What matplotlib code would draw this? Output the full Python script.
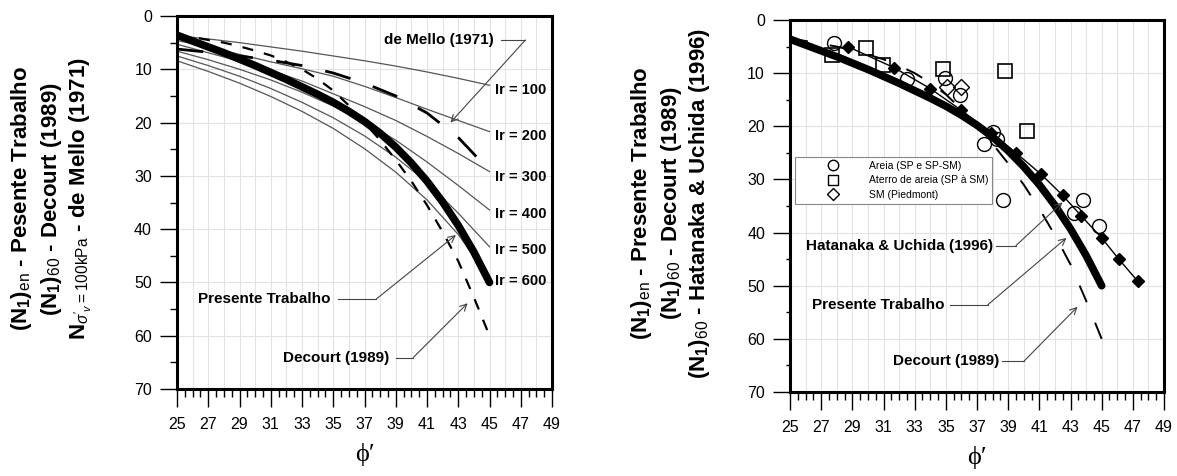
import numpy as np
import matplotlib.pyplot as plt
from matplotlib.lines import Line2D
from matplotlib.ticker import FixedLocator

plt.rcParams['font.family'] = ['Liberation Sans', 'DejaVu Sans']
plt.rcParams['mathtext.fontset'] = 'custom'
plt.rcParams['mathtext.rm'] = 'Liberation Sans'
plt.rcParams['mathtext.bf'] = 'Liberation Sans:bold'
plt.rcParams['mathtext.it'] = 'Liberation Sans:italic'
plt.rcParams['lines.scale_dashes'] = False

# friction angle (deg) for the two main curves
phi = [25, 26, 27, 28, 29, 30, 31, 32, 33, 34, 35, 36, 37, 38, 39, 40, 41, 42, 43, 44, 45]
presente = [3.6, 4.7, 5.8, 6.9, 8.1, 9.3, 10.6, 11.9, 13.3, 14.7, 16.2, 17.9, 19.8,
            22.0, 24.6, 27.6, 31.0, 34.9, 39.3, 44.3, 50.0]
decourt = [3.5, 3.95, 4.5, 5.0, 5.7, 6.5, 7.4, 8.6, 10.0, 11.8, 14.0, 16.8, 20.0,
           23.3, 27.0, 31.0, 35.5, 40.5, 46.0, 52.8, 60.0]

# de Mello (1971) curves
phi_mello = [25, 27, 29, 31, 33, 35, 37, 39, 41, 43, 45]
ir100 = [3.7, 4.3, 5.0, 5.8, 6.6, 7.5, 8.4, 9.4, 10.5, 11.7, 13.0]
ir200 = [4.6, 5.8, 7.2, 8.6, 9.9, 11.3, 13.2, 15.3, 17.5, 19.6, 21.7]
ir300 = [5.3, 6.9, 8.5, 10.2, 12.2, 14.6, 17.0, 19.6, 22.6, 25.8, 29.2]
ir400 = [6.6, 8.2, 10.0, 12.0, 14.3, 16.9, 19.8, 23.3, 27.4, 31.8, 36.4]
ir500 = [7.5, 9.3, 11.3, 13.6, 16.2, 19.1, 22.5, 26.5, 31.2, 37.0, 43.3]
ir600 = [8.4, 10.4, 12.6, 15.1, 17.9, 21.1, 24.9, 29.3, 34.5, 41.0, 49.2]
mello_dash = [6.2, 6.8, 7.5, 8.3, 9.3, 10.7, 12.6, 15.0, 18.2, 22.8, 29.0]
ir_labels = ['Ir = 100', 'Ir = 200', 'Ir = 300', 'Ir = 400', 'Ir = 500', 'Ir = 600']
ir_label_y = [13.9, 22.6, 30.3, 37.2, 43.9, 49.7]

# Hatanaka & Uchida (1996)
phi_hat = [28.7, 31.7, 34.0, 36.0, 37.9, 39.5, 41.1, 42.5, 43.7, 45.0, 46.1, 47.3]
n_hat = [5.0, 9.0, 12.9, 17.0, 21.2, 25.0, 29.0, 33.0, 36.9, 41.0, 45.0, 49.1]

# data points
areia_phi = [27.8, 32.5, 34.95, 35.9, 38.0, 38.3, 37.45, 38.7, 43.8, 43.2, 44.85]
areia_n = [4.3, 11.1, 11.0, 14.2, 21.1, 22.3, 23.4, 33.8, 33.9, 36.3, 38.8]
aterro_phi = [27.7, 29.85, 30.95, 34.85, 38.8, 40.2]
aterro_n = [6.6, 5.3, 8.4, 9.3, 9.6, 20.9]
sm_phi = [35.05, 35.95]
sm_n = [12.6, 12.6]

x_major = np.arange(25, 50, 2)
x_minor = np.arange(25, 49.01, 0.5)
y_major = np.arange(0, 71, 10)
y_minor = np.arange(5, 70, 10)

fig = plt.figure(figsize=(11.77, 4.76), dpi=100)
ax1 = fig.add_axes([177 / 1177, 1 - 389 / 476, 375 / 1177, 373 / 476])
ax2 = fig.add_axes([790 / 1177, 1 - 392 / 476, 374 / 1177, 372 / 476])


def style_axes(ax, minor_len):
    ax.set_xlim(25, 49)
    ax.set_ylim(70, 0)
    ax.vlines(np.arange(26, 49), 0, 70, color='#e3e3e3', lw=0.8, zorder=0)
    ax.hlines(np.arange(10, 70, 10), 25, 49, color='#e3e3e3', lw=0.8, zorder=0)
    ax.xaxis.set_major_locator(FixedLocator(x_major))
    ax.xaxis.set_minor_locator(FixedLocator(x_minor))
    ax.yaxis.set_major_locator(FixedLocator(y_major))
    ax.yaxis.set_minor_locator(FixedLocator(y_minor))
    ax.tick_params(axis='x', which='major', direction='out', length=13, width=1,
                   pad=7, labelsize=11.5)
    ax.tick_params(axis='x', which='minor', direction='out', length=6, width=1)
    ax.tick_params(axis='y', which='major', direction='out', length=12, width=1,
                   pad=6, labelsize=11.5)
    ax.tick_params(axis='y', which='minor', direction='out', length=minor_len, width=1)
    for s in ax.spines.values():
        s.set_linewidth(2.2)
    ax.set_xlabel('\u03d5\u2032', family=['Liberation Serif', 'DejaVu Serif'],
                  fontsize=19, labelpad=8)


def leader(ax, text, text_x, y, x0, x1, tip):
    ax.text(text_x, y, text, ha='right', va='center', fontsize=11, fontweight='bold')
    ax.plot([x0, x1], [y, y], color='#444', lw=0.8)
    ax.annotate('', xy=tip, xytext=(x1, y),
                arrowprops=dict(arrowstyle='->', color='#444', lw=0.8,
                                shrinkA=0, shrinkB=0, mutation_scale=12))


# ---- left panel
style_axes(ax1, 5)
for vals in [ir100, ir200, ir300, ir400, ir500, ir600]:
    ax1.plot(phi_mello, vals, color='#555', lw=0.9)
ax1.plot(phi_mello, mello_dash, color='black', lw=2, dashes=(19, 17))
ax1.plot(phi, decourt, color='black', lw=1.6, dashes=(8, 8))
ax1.plot(phi, presente, color='black', lw=5.5, solid_capstyle='round')
for lab, yv in zip(ir_labels, ir_label_y):
    ax1.text(45.36, yv, lab, ha='left', va='center', fontsize=10.5, fontweight='bold')
leader(ax1, 'Presente Trabalho', 34.83, 53.15, 35.3, 37.74, (42.85, 41.1))
leader(ax1, 'Decourt (1989)', 38.6, 64.1, 39.0, 40.12, (43.6, 53.9))
leader(ax1, 'de Mello (1971)', 45.3, 4.5, 45.72, 47.3, (42.5, 20.0))

left_lines = [r'$\mathbf{(N_1)}_{\mathrm{en}}$ - Pesente Trabalho',
              r'$\mathbf{(N_1)}_{\mathrm{60}}$ - Decourt (1989)',
              r"$\mathbf{N}_{\sigma'_{v}=100\mathrm{kPa}}$ - de Mello (1971)"]
for xp, s in zip([22, 52, 81], left_lines):
    fig.text(xp / 1177, 1 - 199 / 476, s, rotation=90, ha='center', va='center',
             fontsize=16, fontweight='bold')

# ---- right panel
style_axes(ax2, 3)
ax2.plot(phi, decourt, color='black', lw=1.4, dashes=(13, 16))
ax2.plot(phi_hat, n_hat, color='black', lw=1, marker='D', ms=6.5,
         markerfacecolor='black')
ax2.plot(phi, presente, color='black', lw=5.5, solid_capstyle='round')
ax2.plot(areia_phi, areia_n, ls='none', marker='o', ms=10, mfc='none', mec='black', mew=1)
ax2.plot(aterro_phi, aterro_n, ls='none', marker='s', ms=10, mfc='none', mec='black', mew=1.2)
ax2.plot(sm_phi, sm_n, ls='none', marker='D', ms=8, mfc='none', mec='black', mew=1)
leader(ax2, 'Hatanaka & Uchida (1996)', 38.05, 42.45, 38.2, 39.5, (42.49, 34.3))
leader(ax2, 'Presente Trabalho', 34.92, 53.6, 35.24, 37.69, (42.74, 41.0))
leader(ax2, 'Decourt (1989)', 38.45, 64.15, 38.6, 40.03, (43.45, 53.96))

handles = [Line2D([], [], ls='none', marker='o', ms=7.5, mfc='none', mec='black'),
           Line2D([], [], ls='none', marker='s', ms=7.5, mfc='none', mec='black'),
           Line2D([], [], ls='none', marker='D', ms=6, mfc='none', mec='black')]
leg = ax2.legend(handles, ['Areia (SP e SP-SM)', 'Aterro de areia (SP \u00e0 SM)',
                           'SM (Piedmont)'],
                 loc='upper left', bbox_to_anchor=(0.013, 0.633), borderaxespad=0,
                 fontsize=7.5, handlelength=6.5, handletextpad=0.2, labelspacing=0.45,
                 borderpad=0.4, fancybox=False, framealpha=1, edgecolor='#888')
leg.get_frame().set_linewidth(0.8)

right_lines = [r'$\mathbf{(N_1)}_{\mathrm{en}}$ - Presente Trabalho',
               r'$\mathbf{(N_1)}_{\mathrm{60}}$ - Decourt (1989)',
               r'$\mathbf{(N_1)}_{\mathrm{60}}$ - Hatanaka & Uchida (1996)']
for xp, s in zip([642, 671, 700], right_lines):
    fig.text(xp / 1177, 1 - 203 / 476, s, rotation=90, ha='center', va='center',
             fontsize=16, fontweight='bold')

fig.savefig('out.png', dpi=100)
